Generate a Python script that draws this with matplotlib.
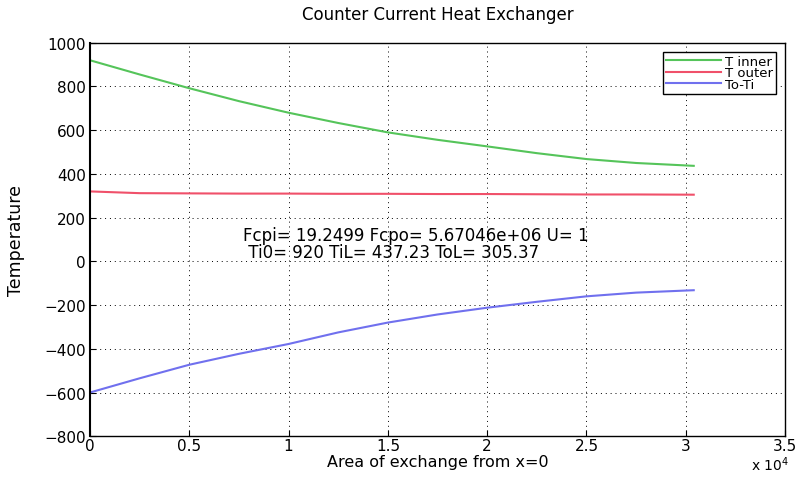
import matplotlib.pyplot as plt

# area of exchange (x 10^4) and temperatures
area = [0, 0.25, 0.5, 0.75, 1.0, 1.25, 1.5, 1.75, 2.0, 2.25, 2.5, 2.75, 3.04]
t_inner = [920, 855, 792, 733, 680, 633, 590, 556, 526, 495, 468, 450, 437]
t_outer = [320, 312, 311, 310, 310, 309, 309, 308, 308, 307, 306, 306, 305]
to_ti = [-600, -535, -473, -423, -378, -325, -280, -243, -212, -185, -160, -143, -132]

xticks = [0, 0.5, 1, 1.5, 2, 2.5, 3, 3.5]
yticks = list(range(-800, 1001, 200))

plt.rcParams['font.family'] = ['DejaVu Sans']

fig = plt.figure(figsize=(7.99, 4.81), dpi=100)
ax = fig.add_axes([0.1126, 0.091, 0.870, 0.818])

ax.plot(area, t_inner, color="#55c45a", lw=1.5, label="T inner")
ax.plot(area, t_outer, color="#f0506a", lw=1.5, label="T outer")
ax.plot(area, to_ti, color="#7070ee", lw=1.5, label="To-Ti")

ax.set_xlim(0, 3.5)
ax.set_ylim(-800, 1000)
ax.set_xticks(xticks)
ax.set_xticklabels(["0", "0.5", "1", "1.5", "2", "2.5", "3", "3.5"])
ax.set_yticks(yticks)
ax.tick_params(direction="in", labelsize=11, length=4, colors="black", pad=3)
ax.tick_params(axis="x", pad=1)
ax.grid(True, linestyle=(0, (1, 4)), color="black", lw=0.7)
for s in ax.spines.values():
    s.set_linewidth(1.0)
ax.spines["left"].set_linewidth(1.5)

ax.set_title("Counter Current Heat Exchanger", fontsize=12, pad=17)
ax.set_xlabel("Area of exchange from x=0", fontsize=11.5, labelpad=1)
ax.set_ylabel("Temperature", fontsize=12.5, labelpad=14)
fig.text(0.94, 0.02, "x 10$^4$", fontsize=10)

ax.text(0.77, 83, "Fcpi= 19.2499 Fcpo= 5.67046e+06 U= 1\n Ti0= 920 TiL= 437.23 ToL= 305.37",
        fontsize=12, va="center", ha="left", linespacing=0.95)

leg = ax.legend(loc="upper right", fontsize=9.5, fancybox=False, framealpha=1,
                edgecolor="black", borderpad=0.2, labelspacing=-0.1,
                handlelength=4.2, handletextpad=0.3, borderaxespad=0.7)
leg.get_frame().set_linewidth(1.0)

plt.savefig("out.png", dpi=100)
